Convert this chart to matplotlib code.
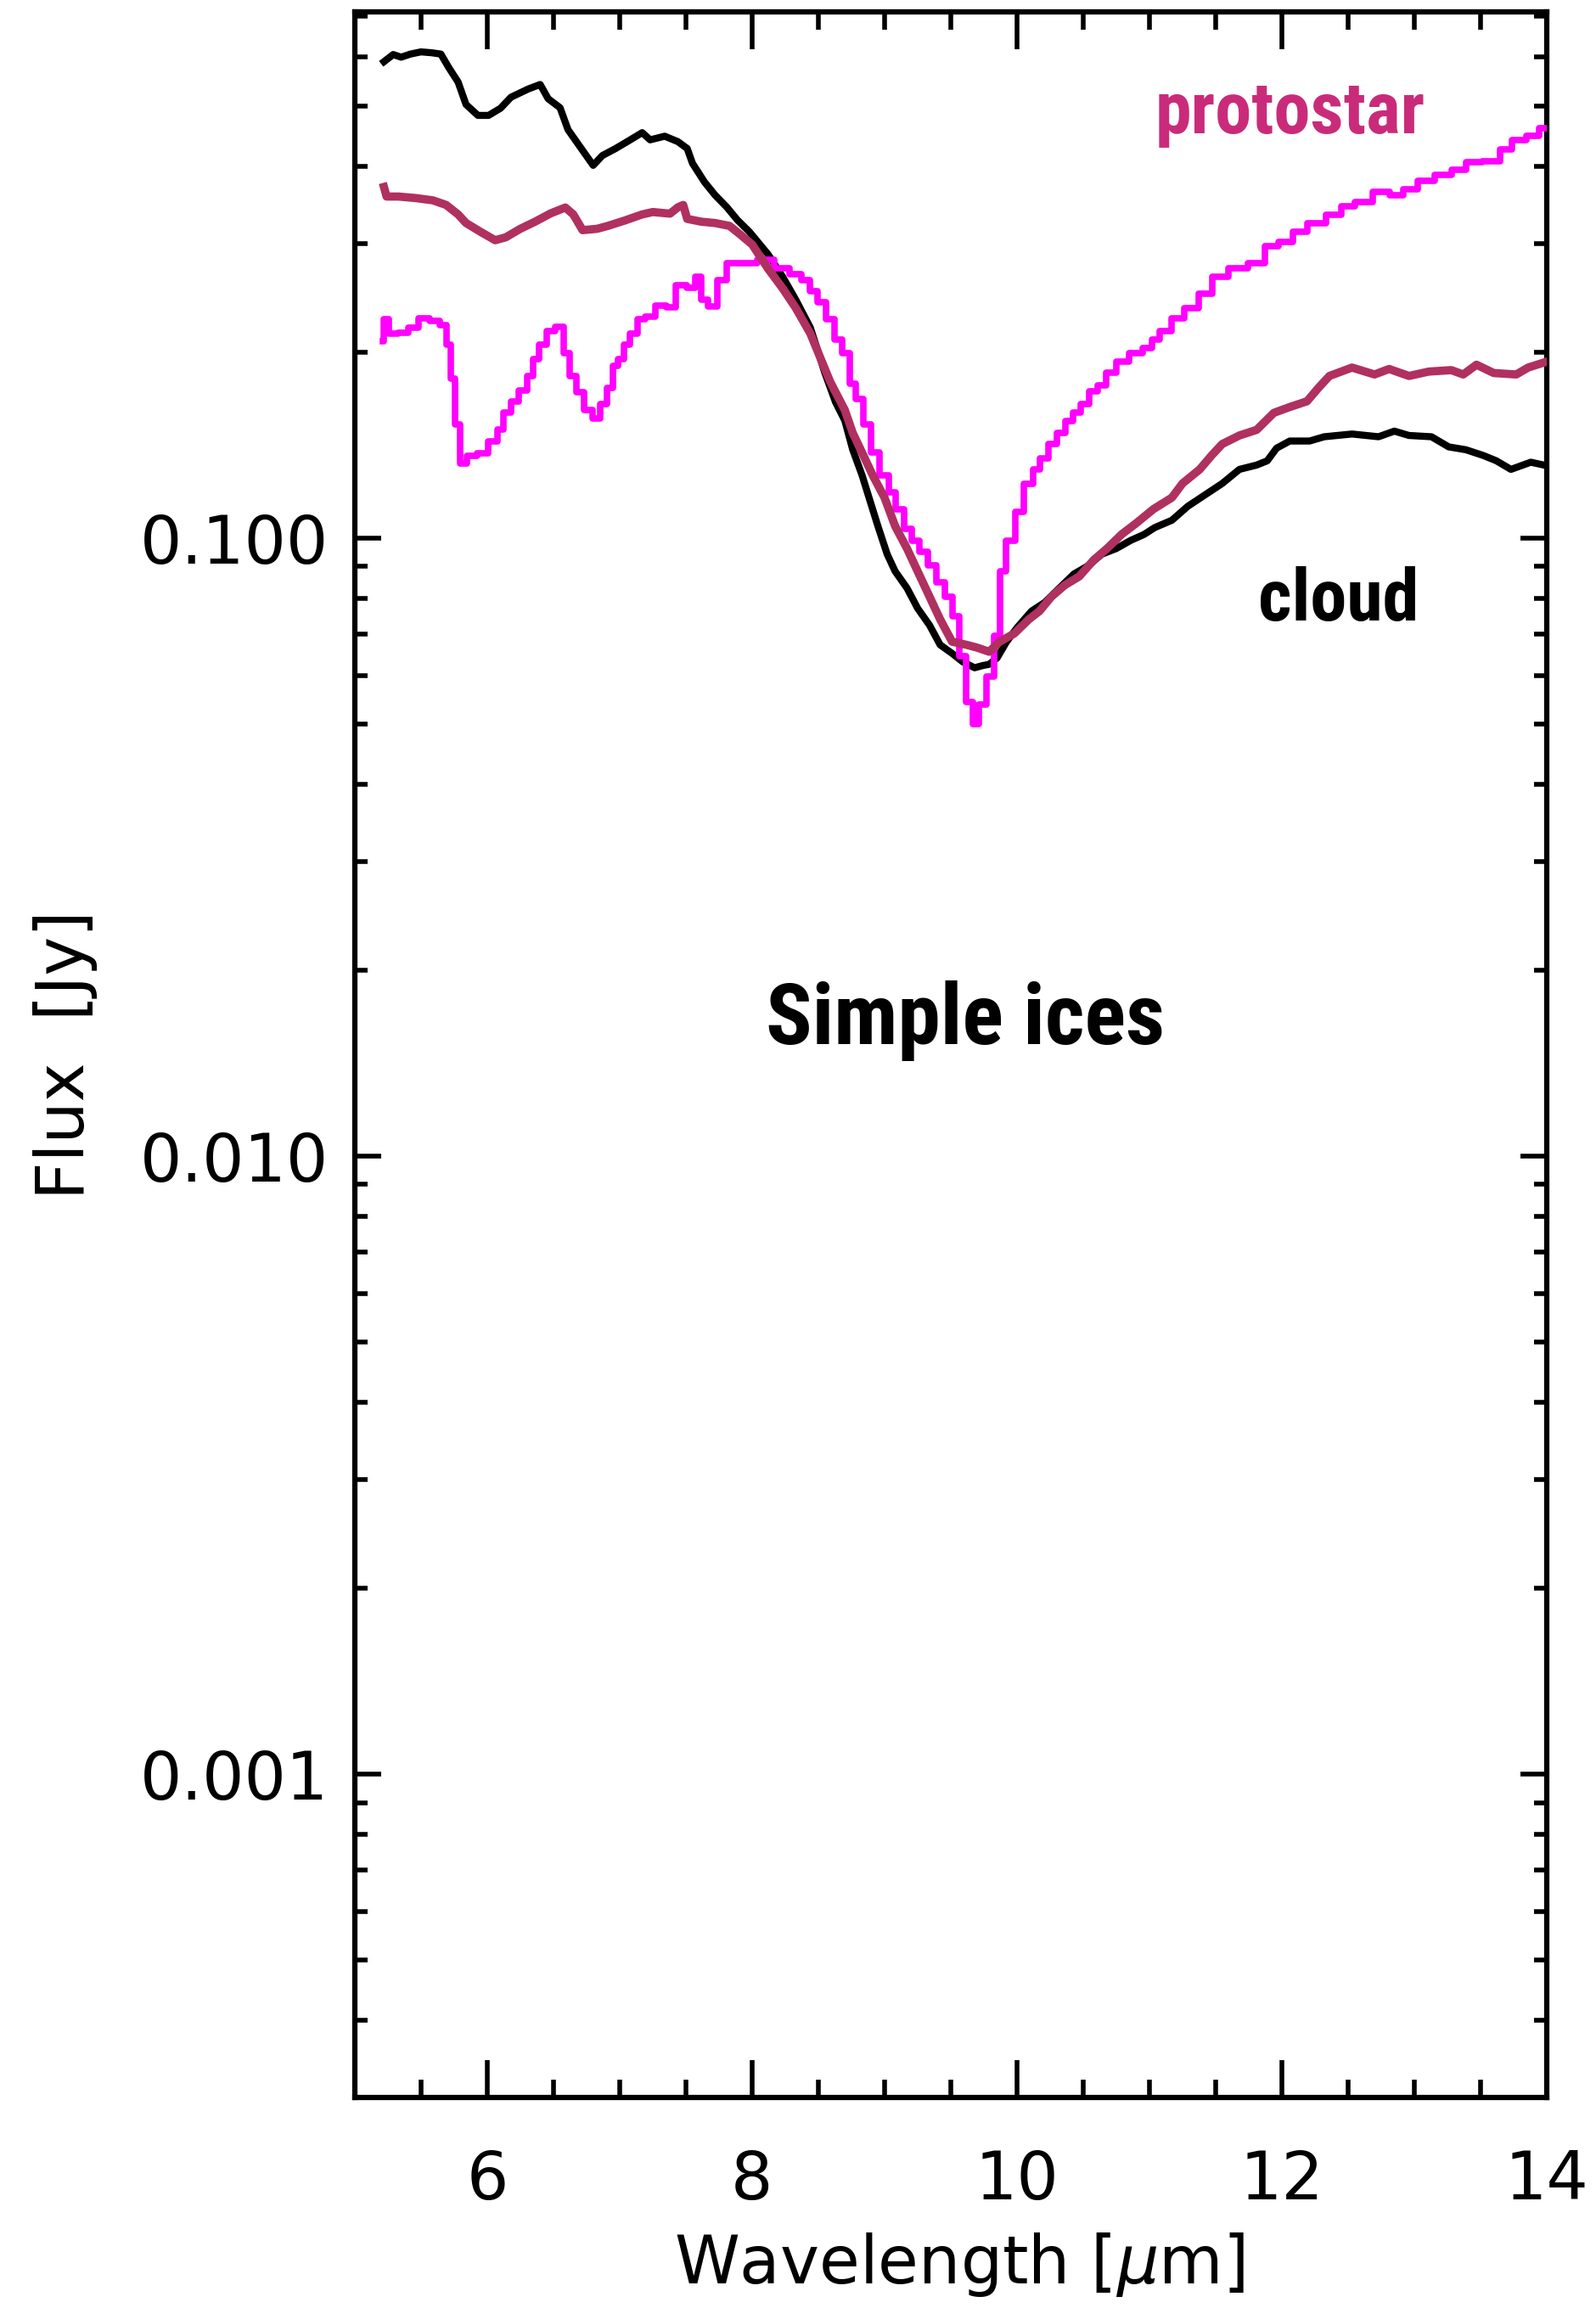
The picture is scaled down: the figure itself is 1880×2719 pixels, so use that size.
import matplotlib
matplotlib.use("Agg")
import matplotlib.pyplot as plt
from matplotlib import font_manager
from matplotlib.ticker import FixedLocator, LogLocator, FormatStrFormatter, MultipleLocator, NullFormatter

# cloud spectrum (black)
wl_cloud = [5.22, 5.29, 5.35, 5.42, 5.50, 5.58, 5.65, 5.71, 5.78, 5.84, 5.93, 6.01, 6.10, 6.18,
            6.31, 6.40, 6.46, 6.55, 6.61, 6.70, 6.80, 6.87, 6.97, 7.08, 7.17, 7.23, 7.34, 7.44,
            7.51, 7.55, 7.64, 7.72, 7.81, 7.89, 7.98, 8.12, 8.23, 8.33, 8.44, 8.55, 8.63, 8.70,
            8.76, 8.83, 8.89, 8.95, 9.02, 9.08, 9.17, 9.25, 9.34, 9.42, 9.51, 9.59, 9.68, 9.74,
            9.79, 9.85, 9.92, 10.00, 10.11, 10.21, 10.32, 10.43, 10.54, 10.64, 10.75, 10.86,
            10.96, 11.04, 11.17, 11.29, 11.42, 11.55, 11.68, 11.81, 11.89, 11.96, 12.06, 12.21,
            12.32, 12.53, 12.73, 12.85, 12.96, 13.13, 13.26, 13.39, 13.52, 13.62, 13.73, 13.88, 14.00]
flux_cloud = [0.590, 0.606, 0.600, 0.607, 0.612, 0.610, 0.607, 0.577, 0.547, 0.503, 0.483, 0.483,
              0.496, 0.517, 0.533, 0.542, 0.514, 0.497, 0.458, 0.430, 0.401, 0.416, 0.427, 0.441,
              0.453, 0.441, 0.447, 0.438, 0.427, 0.404, 0.377, 0.359, 0.343, 0.327, 0.313, 0.288,
              0.265, 0.243, 0.219, 0.185, 0.166, 0.155, 0.139, 0.1265, 0.115, 0.1046, 0.0942,
              0.0884, 0.083, 0.077, 0.0723, 0.0672, 0.0651, 0.0631, 0.0617, 0.0622, 0.0625, 0.064,
              0.0679, 0.0716, 0.0762, 0.0787, 0.083, 0.0875, 0.0903, 0.0942, 0.0962, 0.0992,
              0.1014, 0.104, 0.1069, 0.1126, 0.1175, 0.1226, 0.1292, 0.1313, 0.1334, 0.1398,
              0.1436, 0.1436, 0.1459, 0.1474, 0.1459, 0.149, 0.1466, 0.1459, 0.1405, 0.139,
              0.1361, 0.1334, 0.1292, 0.1327, 0.131]

# maroon spectrum
wl_mid = [5.22, 5.24, 5.33, 5.46, 5.59, 5.69, 5.78, 5.84, 5.95, 6.06, 6.14, 6.25, 6.36, 6.48,
          6.59, 6.65, 6.72, 6.83, 6.91, 7.04, 7.17, 7.25, 7.38, 7.44, 7.48, 7.51, 7.62, 7.72,
          7.83, 7.91, 8.00, 8.12, 8.23, 8.33, 8.44, 8.59, 8.70, 8.76, 8.83, 8.91, 9.00, 9.08,
          9.17, 9.25, 9.34, 9.42, 9.51, 9.62, 9.70, 9.79, 9.87, 9.98, 10.09, 10.17, 10.26,
          10.36, 10.47, 10.58, 10.68, 10.79, 10.90, 11.03, 11.17, 11.25, 11.38, 11.47, 11.55,
          11.68, 11.81, 11.94, 12.06, 12.19, 12.28, 12.36, 12.53, 12.70, 12.81, 12.96, 13.11,
          13.28, 13.37, 13.47, 13.60, 13.77, 13.86, 14.00]
flux_mid = [0.370, 0.357, 0.357, 0.355, 0.352, 0.346, 0.334, 0.3235, 0.313, 0.3034, 0.3067,
            0.3166, 0.325, 0.3354, 0.3427, 0.334, 0.315, 0.3166, 0.320, 0.3266, 0.334, 0.337,
            0.335, 0.343, 0.346, 0.3285, 0.325, 0.3235, 0.320, 0.310, 0.2987, 0.273, 0.2537,
            0.2357, 0.2143, 0.179, 0.1612, 0.148, 0.1376, 0.1265, 0.1163, 0.1046, 0.0962,
            0.0884, 0.0804, 0.0739, 0.068, 0.0672, 0.0665, 0.0655, 0.068, 0.0701, 0.0739,
            0.0762, 0.0804, 0.0839, 0.0867, 0.0922, 0.0962, 0.1014, 0.1057, 0.1114, 0.1163,
            0.1226, 0.1292, 0.1361, 0.142, 0.1466, 0.1497, 0.1595, 0.163, 0.1665, 0.1754,
            0.183, 0.1888, 0.184, 0.1878, 0.183, 0.186, 0.187, 0.184, 0.1908, 0.185, 0.184,
            0.1888, 0.193]

# protostar spectrum (magenta)
wl_proto = [5.21, 5.23, 5.29, 5.37, 5.44, 5.52, 5.61, 5.67, 5.71, 5.74, 5.78, 5.81, 5.88, 5.97,
            6.05, 6.10, 6.15, 6.21, 6.27, 6.33, 6.36, 6.42, 6.48, 6.55, 6.60, 6.65, 6.70, 6.76,
            6.83, 6.88, 6.93, 6.97, 7.00, 7.06, 7.10, 7.17, 7.22, 7.32, 7.38, 7.47, 7.55, 7.59,
            7.64, 7.70, 7.77, 7.85, 7.98, 8.10, 8.23, 8.33, 8.41, 8.46, 8.53, 8.59, 8.65, 8.71,
            8.76, 8.81, 8.87, 8.93, 9.00, 9.06, 9.11, 9.18, 9.23, 9.30, 9.36, 9.42, 9.49, 9.54,
            9.59, 9.64, 9.69, 9.74, 9.80, 9.85, 9.89, 9.95, 10.02, 10.09, 10.15, 10.20, 10.27,
            10.33, 10.40, 10.45, 10.51, 10.58, 10.64, 10.71, 10.79, 10.90, 11.00, 11.04, 11.12,
            11.21, 11.32, 11.42, 11.53, 11.66, 11.83, 11.91, 12.04, 12.13, 12.26, 12.41, 12.49,
            12.62, 12.75, 12.88, 12.96, 13.09, 13.22, 13.35, 13.43, 13.60, 13.69, 13.79, 13.90, 13.98]
flux_proto = [0.208, 0.226, 0.214, 0.215, 0.219, 0.227, 0.2247, 0.221, 0.2054, 0.181, 0.153,
              0.132, 0.136, 0.137, 0.1436, 0.1497, 0.1595, 0.1665, 0.1736, 0.183, 0.195,
              0.2054, 0.2166, 0.220, 0.199, 0.183, 0.172, 0.161, 0.156, 0.165, 0.175, 0.190,
              0.195, 0.2054, 0.2143, 0.2259, 0.2283, 0.2381, 0.236, 0.2564, 0.254, 0.2646,
              0.2432, 0.2368, 0.2618, 0.279, 0.279, 0.2818, 0.273, 0.2674, 0.2618, 0.251,
              0.2406, 0.2259, 0.2098, 0.199, 0.178, 0.1682, 0.1529, 0.1376, 0.1265, 0.1187,
              0.1114, 0.1035, 0.0992, 0.0952, 0.0903, 0.0847, 0.0804, 0.0747, 0.0644, 0.0544,
              0.050, 0.0538, 0.0598, 0.0694, 0.0884, 0.0992, 0.1103, 0.1226, 0.1292, 0.1348,
              0.142, 0.148, 0.1546, 0.1595, 0.1647, 0.1727, 0.1764, 0.185, 0.1929, 0.199,
              0.2033, 0.2098, 0.2166, 0.227, 0.2357, 0.2483, 0.2646, 0.273, 0.279, 0.2972,
              0.3018, 0.313, 0.3235, 0.334, 0.3444, 0.3499, 0.363, 0.359, 0.367, 0.379, 0.387,
              0.395, 0.4055, 0.4077, 0.4253, 0.4408, 0.448, 0.46]

y_major = [0.001, 0.01, 0.1]

plt.rcParams['mathtext.fontset'] = 'dejavusans'
label_font = {'family': 'DejaVu Sans', 'size': 56}

# pick a narrow bold face if one is installed
installed = {f.name for f in font_manager.fontManager.ttflist}
note_font = 'DejaVu Sans'
for name in ['Roboto Condensed', 'DejaVu Sans Condensed', 'Liberation Sans Narrow', 'Open Sans Condensed', 'Roboto']:
    if name in installed:
        note_font = name
        break

fig = plt.figure(figsize=(18.8, 27.19), dpi=100)
ax = fig.add_axes([0.2223, 0.0912, 0.7468, 0.9036])

ax.plot(wl_cloud, flux_cloud, color='black', lw=6, zorder=2)
ax.plot(wl_proto, flux_proto, color='#FF00FF', lw=5.5, drawstyle='steps-mid', zorder=3)
ax.plot(wl_mid, flux_mid, color='#B03060', lw=7, zorder=4)

ax.set_yscale('log')
ax.set_xlim(5, 14)
ax.set_ylim(3.0e-4, 0.71)

ax.xaxis.set_major_locator(MultipleLocator(2))
ax.xaxis.set_minor_locator(MultipleLocator(0.5))
ax.yaxis.set_major_locator(FixedLocator(y_major))
ax.yaxis.set_major_formatter(FormatStrFormatter('%.3f'))
ax.yaxis.set_minor_locator(LogLocator(base=10, subs=range(2, 10)))
ax.yaxis.set_minor_formatter(NullFormatter())

for s in ax.spines.values():
    s.set_linewidth(4.5)
ax.tick_params(which='both', direction='in', top=True, right=True, width=4, labelsize=56)
ax.tick_params(axis='x', which='major', length=32, pad=43)
ax.tick_params(axis='x', which='minor', length=15)
ax.tick_params(axis='y', which='major', length=22, pad=22)
ax.tick_params(axis='y', which='minor', length=11)

ax.set_xlabel(r'Wavelength [$\mu$m]', fontdict=label_font)
ax.set_ylabel('Flux  [Jy]', fontdict=label_font)
ax.xaxis.set_label_coords(0.507, -0.064)
ax.yaxis.set_label_coords(-0.216, 0.5)

ax.text(11.04, 0.452, 'protostar', color='#C92B7A', fontsize=62, fontweight='bold',
        family=note_font, va='baseline', ha='left')
ax.text(11.82, 0.0735, 'cloud', color='black', fontsize=62, fontweight='bold',
        family=note_font, va='baseline', ha='left')
ax.text(9.61, 0.0152, 'Simple ices', color='black', fontsize=73, fontweight='bold',
        family=note_font, va='baseline', ha='center')

fig.savefig('out.png', dpi=100)
